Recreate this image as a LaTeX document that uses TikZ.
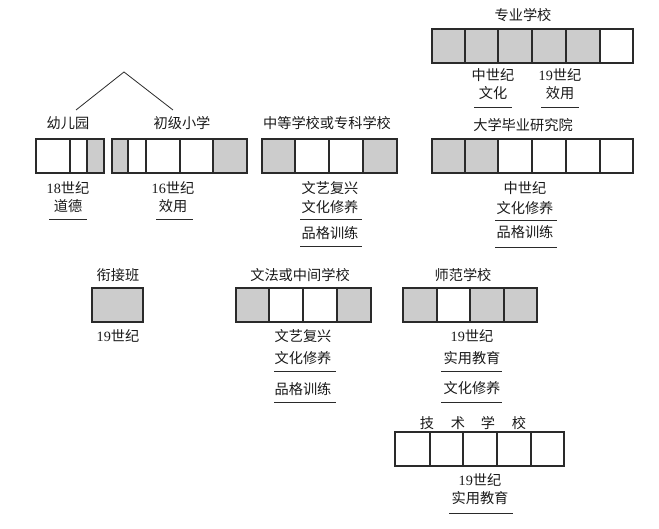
\documentclass[tikz,border=0pt]{standalone}
\usepackage{fontspec}
\setmainfont{Liberation Serif}
\newfontfamily\cjk{Noto Sans CJK SC}
\definecolor{cellgrey}{HTML}{CCCCCC}
\definecolor{linec}{HTML}{2A2A2A}
\tikzset{
  lbl/.style={inner sep=0pt, font=\fontsize{14.2}{16}\selectfont\cjk, text=black!90},
  num/.style={inner sep=0pt, font=\fontsize{14.2}{16}\selectfont, text=black!90},
  cellline/.style={draw=linec, line width=1.1pt},
  uline/.style={draw=linec, line width=0.9pt},
  branch/.style={draw=linec, line width=0.8pt}
}
\newcommand{\cellrow}[3]{% y1, y2, list a/b/colour
  \foreach \a/\b/\f in {#3} {
    \fill[\f] (\a,#1) rectangle (\b,#2);
    \draw[cellline] (\a,#1) rectangle (\b,#2);
  }
}
\begin{document}
\begin{tikzpicture}[x=1pt,y=-1pt]
\useasboundingbox (0,0) rectangle (659,529);
% --- top: 专业学校
\node[lbl] (zy) at (523,15) {专业学校};
\cellrow{29}{63}{432/465/cellgrey,465/498/cellgrey,498/532/cellgrey,532/566/cellgrey,566/600/cellgrey,600/633/white}
\node[lbl] (zy1a) at (493,75) {中世纪};
\node[lbl] (zy1b) at (493,93) {文化};
\draw[uline] (474,107) -- (512,107);
\node[num] (zy2a) at (560,75) {19{\cjk 世纪}};
\node[lbl] (zy2b) at (560,93) {效用};
\draw[uline] (541,107) -- (579,107);

% --- 幼儿园 / 初级小学
\coordinate (apex) at (124,72);
\coordinate (bl) at (76,110);
\coordinate (br) at (173,110);
\draw[branch] (bl) -- (apex) -- (br);
\node[lbl] (yey) at (68,123) {幼儿园};
\node[lbl] (cjxx) at (182,123) {初级小学};
\cellrow{139}{173}{36/70/white,70/87/white,87/104/cellgrey}
\cellrow{139}{173}{112/128/cellgrey,128/146/white,146/180/white,180/213/white,213/247/cellgrey}
\node[num] (y1) at (68,188) {18{\cjk 世纪}};
\node[lbl] (y2) at (68,206) {道德};
\draw[uline] (49,219) -- (87,219);
\node[num] (c1) at (173,188) {16{\cjk 世纪}};
\node[lbl] (c2) at (173,206) {效用};
\draw[uline] (156,219) -- (193,219);

% --- 中等学校或专科学校
\node[lbl] (zd) at (327,123) {中等学校或专科学校};
\cellrow{139}{173}{262/295/cellgrey,295/329/white,329/363/white,363/397/cellgrey}
\node[lbl] (zd1) at (330,188) {文艺复兴};
\node[lbl] (zd2) at (330,207) {文化修养};
\draw[uline] (300,219) -- (362,219);
\node[lbl] (zd3) at (330,233) {品格训练};
\draw[uline] (300,246) -- (362,246);

% --- 大学毕业研究院
\node[lbl] (dx) at (523,125) {大学毕业研究院};
\cellrow{139}{173}{432/465/cellgrey,465/498/cellgrey,498/532/white,532/566/white,566/600/white,600/633/white}
\node[lbl] (dx1) at (525,188) {中世纪};
\node[lbl] (dx2) at (525,208) {文化修养};
\draw[uline] (495,220) -- (557,220);
\node[lbl] (dx3) at (525,232) {品格训练};
\draw[uline] (495,247) -- (557,247);

% --- 衔接班
\node[lbl] (xj) at (118,275) {衔接班};
\cellrow{288}{322}{92/143/cellgrey}
\node[num] (xj1) at (118,336) {19{\cjk 世纪}};

% --- 文法或中间学校
\node[lbl] (wf) at (300,275) {文法或中间学校};
\cellrow{288}{322}{236/269/cellgrey,269/303/white,303/337/white,337/371/cellgrey}
\node[lbl] (wf1) at (303,336) {文艺复兴};
\node[lbl] (wf2) at (303,358) {文化修养};
\draw[uline] (274,371) -- (336,371);
\node[lbl] (wf3) at (303,389) {品格训练};
\draw[uline] (274,402) -- (336,402);

% --- 师范学校
\node[lbl] (sf) at (463,275) {师范学校};
\cellrow{288}{322}{403/437/cellgrey,437/470/white,470/504/cellgrey,504/537/cellgrey}
\node[num] (sf1) at (472,336) {19{\cjk 世纪}};
\node[lbl] (sf2) at (472,358) {实用教育};
\draw[uline] (441,371) -- (502,371);
\node[lbl] (sf3) at (472,388) {文化修养};
\draw[uline] (441,402) -- (502,402);

% --- 技术学校
\node[lbl] (js1) at (427,423) {技};
\node[lbl] (js2) at (458,423) {术};
\node[lbl] (js3) at (488,423) {学};
\node[lbl] (js4) at (519,423) {校};
\cellrow{432}{466}{395/430/white,430/463/white,463/497/white,497/531/white,531/564/white}
\node[num] (js5) at (480,480) {19{\cjk 世纪}};
\node[lbl] (js6) at (480,498) {实用教育};
\draw[uline] (449,513) -- (513,513);
\end{tikzpicture}
\end{document}
